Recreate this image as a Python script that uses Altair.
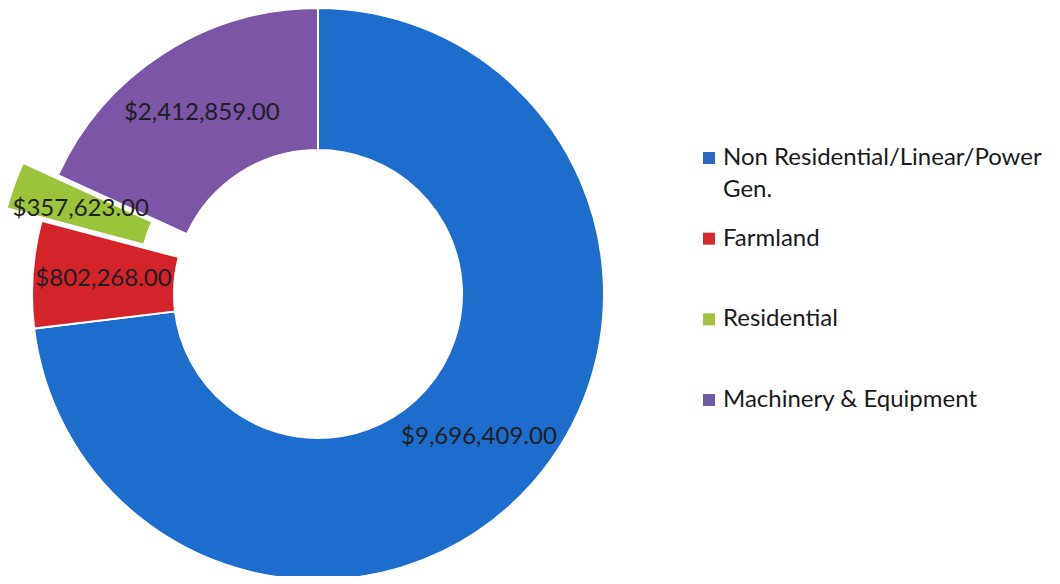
import math
import altair as alt
import pandas as pd

categories = ["Non Residential/Linear/Power Gen.", "Farmland", "Residential", "Machinery & Equipment"]
values = [9696409.00, 802268.00, 357623.00, 2412859.00]
value_labels = ["$9,696,409.00", "$802,268.00", "$357,623.00", "$2,412,859.00"]
legend_labels = ["Non Residential/Linear/Power\nGen.", "Farmland", "Residential", "Machinery & Equipment"]
slice_colors = ["#1c6dcc", "#d4242a", "#9bc33c", "#7b55a6"]
legend_colors = ["#2b68c4", "#d42a30", "#a3c03e", "#6b5aa6"]
exploded = "Residential"

df = pd.DataFrame({
    "cat": categories,
    "value": values,
    "label": value_labels,
    "legend": legend_labels,
    "lcol": legend_colors,
    "idx": list(range(len(categories))),
})

# layout
cx, cy = 310, 286
R_OUT, R_IN = 286, 144
R_LAB = 215
EXPLODE = 37
total = sum(values)
k = categories.index(exploded)
mid = (sum(values[:k]) + values[k] / 2) / total * 2 * math.pi
ex_x = cx + EXPLODE * math.sin(mid)
ex_y = cy - EXPLODE * math.cos(mid)

is_ex = alt.datum.cat == exploded

base = alt.Chart(df).encode(
    theta=alt.Theta("value:Q", stack=True),
    order=alt.Order("idx:Q"),
)
color = alt.Color("cat:N", scale=alt.Scale(domain=categories, range=slice_colors), legend=None)

arcs = base.mark_arc(outerRadius=R_OUT, innerRadius=R_IN, stroke="white", strokeWidth=2).encode(
    x=alt.value(cx), y=alt.value(cy), color=color,
    opacity=alt.condition(is_ex, alt.value(0), alt.value(1)),
)
arcs_ex = base.mark_arc(outerRadius=R_OUT, innerRadius=R_IN, stroke="white", strokeWidth=2).encode(
    x=alt.value(ex_x), y=alt.value(ex_y), color=color,
    opacity=alt.condition(is_ex, alt.value(1), alt.value(0)),
)
txt_style = dict(radius=R_LAB, font="Lato", fontSize=24, color="#1e1e24")
texts = base.mark_text(**txt_style).encode(
    x=alt.value(cx), y=alt.value(cy), text="label:N",
    opacity=alt.condition(is_ex, alt.value(0), alt.value(1)),
)
texts_ex = base.mark_text(**txt_style).encode(
    x=alt.value(ex_x), y=alt.value(ex_y), text="label:N",
    opacity=alt.condition(is_ex, alt.value(1), alt.value(0)),
)

ly = alt.Y("cat:N", scale=alt.Scale(type="point", domain=categories, range=[150, 392], padding=0), axis=None)
leg_sq = alt.Chart(df).mark_square(size=144, opacity=1).encode(
    x=alt.value(701), y=ly, color=alt.Color("lcol:N", scale=None),
)
leg_tx = alt.Chart(df).mark_text(
    align="left", baseline="middle", font="Lato", fontSize=24, lineBreak="\n",
    lineHeight=32, color="#1a1a1a",
).encode(x=alt.value(715), y=ly, text="legend:N")

chart = alt.layer(arcs, arcs_ex, texts, texts_ex, leg_sq, leg_tx).properties(
    width=1044, height=568, padding=0, autosize="none"
).configure_view(stroke=None)

chart.save("out.html", embed_options={"renderer": "svg", "actions": False})
